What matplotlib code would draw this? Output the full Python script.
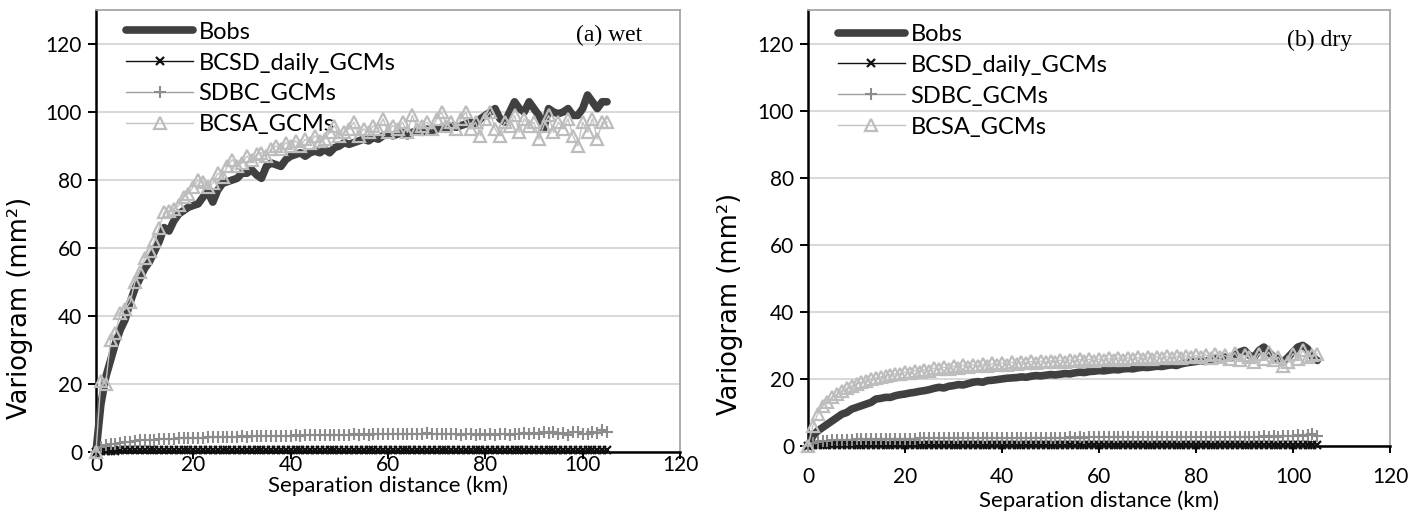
import matplotlib.pyplot as plt
import numpy as np

plt.rcParams['font.family'] = ['Lato', 'DejaVu Sans']

# ---------------- data ----------------
lag_km = list(range(0, 106))

wet_bobs = [0, 14, 22, 27, 32, 36, 39, 44, 48, 51,
            54, 56, 59, 62, 66, 65, 68, 70, 71, 72,
            72.5, 73, 75, 76.5, 73.5, 77, 79, 79.5, 80, 80.5,
            82, 82, 83, 81.5, 80.5, 84, 85, 84.5, 84, 86,
            87, 87.5, 88, 87, 88, 88.5, 88, 89, 88, 89.5,
            90, 91, 90.5, 91, 91.5, 92, 91.5, 92.5, 92, 93,
            93.5, 93, 93.5, 94, 93, 94, 94.5, 94, 95, 94.5,
            95, 95.5, 95, 96, 95.5, 96, 96.5, 97, 96.5, 98,
            99, 100, 101, 98, 97, 100, 103, 101, 100, 103,
            101, 99, 95, 101, 100, 99.5, 100, 101, 99, 99,
            101, 105, 103, 101, 103, 103]
wet_bcsd = [0, 0.3, 0.4, 0.4, 0.4, 0.5, 0.5, 0.5, 0.5, 0.5,
            0.5, 0.5, 0.5, 0.5, 0.5, 0.5, 0.5, 0.5, 0.5, 0.5,
            0.5, 0.5, 0.5, 0.5, 0.5, 0.5, 0.5, 0.5, 0.5, 0.5,
            0.5, 0.5, 0.5, 0.5, 0.5, 0.5, 0.5, 0.5, 0.5, 0.5,
            0.5, 0.5, 0.5, 0.5, 0.5, 0.5, 0.5, 0.5, 0.5, 0.5,
            0.5, 0.5, 0.5, 0.5, 0.5, 0.5, 0.5, 0.5, 0.5, 0.5,
            0.5, 0.5, 0.5, 0.5, 0.5, 0.5, 0.5, 0.5, 0.5, 0.5,
            0.5, 0.5, 0.5, 0.5, 0.5, 0.5, 0.5, 0.5, 0.5, 0.5,
            0.5, 0.5, 0.5, 0.5, 0.5, 0.5, 0.5, 0.5, 0.5, 0.5,
            0.5, 0.5, 0.5, 0.5, 0.5, 0.5, 0.5, 0.5, 0.5, 0.5,
            0.5, 0.5, 0.5, 0.5, 0.5, 0.5]
wet_sdbc = [0, 1.5, 2.0, 2.3, 2.5, 2.7, 3.0, 3.0, 3.2, 3.5,
            3.5, 3.6, 3.6, 3.8, 3.8, 3.8, 3.9, 4.0, 4.0, 4.1,
            4.2, 4.1, 4.2, 4.3, 4.3, 4.4, 4.3, 4.5, 4.4, 4.5,
            4.6, 4.5, 4.6, 4.6, 4.7, 4.6, 4.7, 4.8, 4.7, 4.8,
            4.8, 4.9, 4.8, 4.9, 5.0, 4.9, 5.0, 4.9, 5.0, 5.1,
            5.0, 5.1, 5.0, 5.2, 5.1, 5.3, 5.1, 5.2, 5.3, 5.2,
            5.4, 5.3, 5.4, 5.2, 5.4, 5.3, 5.4, 5.2, 5.5, 5.3,
            5.4, 5.3, 5.2, 5.4, 5.3, 5.1, 5.3, 5.2, 5.0, 5.2,
            5.1, 5.3, 5.0, 5.2, 5.4, 5.1, 5.3, 5.2, 5.5, 5.3,
            5.6, 5.2, 5.8, 5.5, 5.9, 5.4, 5.6, 5.0, 5.8, 5.9,
            5.2, 5.4, 6.0, 5.6, 6.4, 5.8]
wet_bcsa = [0, 21, 20, 33, 35, 41, 42, 44, 50, 53,
            57, 59, 62, 66, 70.5, 71, 71.5, 72.5, 75, 76,
            78, 80, 79.5, 78, 79, 82, 81, 84, 86, 84,
            85, 87, 86, 87.5, 88, 87, 89, 90, 89, 91,
            90, 91.5, 90, 92, 91, 93, 91.5, 92, 94, 96,
            93, 94, 95, 97, 93, 95, 94, 96, 95, 98,
            94, 96, 95, 97, 94, 99, 95, 96, 97, 95,
            98, 100, 96, 97, 95, 98, 100, 95, 97, 93,
            98, 100, 95, 93, 97, 96, 99, 94, 98, 96,
            97, 92, 96, 99, 94, 97, 95, 98, 93, 90,
            97, 94, 98, 92, 97, 97]

dry_bobs = [0, 3, 4.5, 5.5, 6.5, 7.5, 8.5, 9.5, 10, 11,
            11.5, 12, 12.5, 13, 14, 14.2, 14.5, 14.5, 15, 15.3,
            15.5, 15.8, 16, 16.3, 16.5, 16.8, 17.2, 17.5, 17.3, 17.8,
            18, 18.3, 18.2, 18.6, 19, 19.2, 19, 19.5, 19.6, 19.8,
            20, 20.2, 20.3, 20.4, 20.6, 20.5, 20.8, 21, 20.9, 21.1,
            21.3, 21.2, 21.4, 21.6, 21.5, 21.8, 22, 21.9, 22.2, 22.3,
            22.5, 22.4, 22.6, 22.8, 22.7, 23, 23.1, 23, 23.3, 23.5,
            23.4, 23.6, 23.8, 23.7, 24, 24.2, 24, 24.5, 24.8, 25,
            25.2, 25.5, 25.2, 25.8, 26, 25.8, 26.5, 26.2, 27, 28,
            28.5, 27, 26.5, 28.5, 29.5, 28, 26.5, 26, 25, 26.5,
            28, 29.5, 30, 29, 26.5, 25.5]
dry_bcsd = [0, 0.2, 0.3, 0.3, 0.3, 0.3, 0.3, 0.3, 0.3, 0.3,
            0.3, 0.3, 0.3, 0.3, 0.3, 0.3, 0.3, 0.3, 0.3, 0.3,
            0.3, 0.3, 0.3, 0.3, 0.3, 0.3, 0.3, 0.3, 0.3, 0.3,
            0.3, 0.3, 0.3, 0.3, 0.3, 0.3, 0.3, 0.3, 0.3, 0.3,
            0.3, 0.3, 0.3, 0.3, 0.3, 0.3, 0.3, 0.3, 0.3, 0.3,
            0.3, 0.3, 0.3, 0.3, 0.3, 0.3, 0.3, 0.3, 0.3, 0.3,
            0.3, 0.3, 0.3, 0.3, 0.3, 0.3, 0.3, 0.3, 0.3, 0.3,
            0.3, 0.3, 0.3, 0.3, 0.3, 0.3, 0.3, 0.3, 0.3, 0.3,
            0.3, 0.3, 0.3, 0.3, 0.3, 0.3, 0.3, 0.3, 0.3, 0.3,
            0.3, 0.3, 0.3, 0.3, 0.3, 0.3, 0.3, 0.3, 0.3, 0.3,
            0.3, 0.3, 0.3, 0.3, 0.3, 0.3]
dry_sdbc = [0, 1.0, 1.3, 1.5, 1.6, 1.7, 1.8, 1.8, 1.9, 1.9,
            2.0, 2.0, 2.0, 2.1, 2.1, 2.1, 2.1, 2.2, 2.2, 2.2,
            2.2, 2.2, 2.2, 2.3, 2.3, 2.3, 2.3, 2.3, 2.3, 2.3,
            2.3, 2.4, 2.3, 2.4, 2.4, 2.4, 2.4, 2.4, 2.4, 2.4,
            2.4, 2.4, 2.5, 2.4, 2.5, 2.4, 2.5, 2.5, 2.5, 2.5,
            2.5, 2.5, 2.5, 2.5, 2.6, 2.5, 2.6, 2.5, 2.6, 2.6,
            2.6, 2.6, 2.6, 2.6, 2.6, 2.6, 2.7, 2.6, 2.7, 2.6,
            2.7, 2.6, 2.7, 2.7, 2.7, 2.7, 2.7, 2.7, 2.7, 2.7,
            2.7, 2.7, 2.8, 2.7, 2.8, 2.7, 2.8, 2.7, 2.8, 2.8,
            2.8, 2.7, 2.8, 2.8, 2.9, 2.8, 2.9, 2.8, 3.0, 2.9,
            3.0, 3.2, 2.9, 3.4, 3.6, 3.1]
dry_bcsa = [0, 6, 9.5, 12, 13, 14.5, 15.5, 16.5, 17.2, 17.8,
            18.5, 19, 19.5, 20, 20.3, 20.6, 21, 21.3, 21.5, 21.6,
            22, 21.8, 22.5, 22.2, 22.8, 22.5, 23.2, 22.9, 23.5, 23.1,
            23.8, 23.4, 24.1, 23.6, 24.2, 23.8, 24.4, 24, 24.6, 24.2,
            24.8, 24.3, 25, 24.5, 25.1, 24.6, 25.2, 24.8, 25.3, 24.9,
            25.4, 25, 25.6, 25.1, 25.7, 25.2, 25.8, 25.3, 25.9, 25.4,
            26, 25.5, 26.1, 25.6, 26.2, 25.7, 26.3, 25.8, 26.4, 25.9,
            26.5, 26, 26.6, 26.1, 26.7, 26.2, 26.8, 26.3, 26.9, 26.4,
            27, 26.5, 27.2, 26.3, 27.5, 26.5, 27, 26, 27.8, 25.5,
            27, 26.5, 25, 27.5, 26, 28, 25.5, 26.5, 24, 25,
            27.5, 26, 28.5, 26.5, 27, 27.5]

series_names = ['Bobs', 'BCSD_daily_GCMs', 'SDBC_GCMs', 'BCSA_GCMs']
x_ticks = [0, 20, 40, 60, 80, 100, 120]
y_ticks = [0, 20, 40, 60, 80, 100, 120]

# ---------------- figure ----------------
W, H = 1419, 519
fig = plt.figure(figsize=(W / 100, H / 100), dpi=100)
axA = fig.add_axes([96 / W, 1 - 452 / H, (680 - 96) / W, (452 - 10) / H])
axB = fig.add_axes([808 / W, 1 - 446 / H, (1390 - 808) / W, (446 - 10) / H])


def draw(ax, bobs, bcsd, sdbc, bcsa, tag, tag_xy, xpad, xlab_y, ylab_xy, leg_y):
    ax.plot(lag_km, bobs, color='#404040', lw=5.5, solid_capstyle='round',
            solid_joinstyle='round', label=series_names[0], clip_on=False, zorder=3)
    ax.plot(lag_km, bcsd, color='#111111', lw=1.0, marker='x', ms=6, mew=1.6,
            label=series_names[1], clip_on=False, zorder=4)
    ax.plot(lag_km, sdbc, color='#a0a0a0', lw=1.0, marker='+', ms=9, mew=1.5,
            mec='#8c8c8c', label=series_names[2], clip_on=False, zorder=5)
    ax.plot(lag_km, bcsa, color='#c4c4c4', lw=1.0, marker='^', ms=8, mew=1.6,
            mfc='none', mec='#bdbdbd', label=series_names[3], clip_on=False, zorder=6)

    ax.set_xlim(0, 120)
    ax.set_ylim(0, 130)
    ax.set_xticks(x_ticks)
    ax.set_yticks(y_ticks)
    ax.grid(axis='y', color='#d9d9d9', lw=1.5)
    ax.set_axisbelow(True)
    for s in ['left', 'bottom']:
        ax.spines[s].set_color('black')
        ax.spines[s].set_linewidth(1.8)
    for s in ['top', 'right']:
        ax.spines[s].set_color('#a6a6a6')
        ax.spines[s].set_linewidth(1.3)
    ax.tick_params(direction='out', length=6, width=1.4, labelsize=15,
                   colors='black')
    ax.tick_params(axis='y', pad=4)
    ax.tick_params(axis='x', length=5, pad=xpad)
    ax.set_xlabel('Separation distance (km)', fontsize=16)
    ax.xaxis.set_label_coords(0.5, xlab_y)
    ax.xaxis.label.set_va('center')
    ax.set_ylabel('Variogram (mm²)', fontsize=18.5, family=['DejaVu Sans'])
    ax.yaxis.set_label_coords(ylab_xy[0], ylab_xy[1])
    ax.yaxis.label.set_va('center')
    ax.text(tag_xy[0], tag_xy[1], tag, transform=ax.transAxes,
            family='Liberation Serif', fontsize=17, ha='right', va='center')
    leg = ax.legend(loc='upper left', bbox_to_anchor=(0.036, leg_y), frameon=False,
                    fontsize=17, handlelength=2.8, handletextpad=0.25,
                    labelspacing=0.42, borderaxespad=0.0, numpoints=1)
    return leg


draw(axA, wet_bobs, wet_bcsd, wet_sdbc, wet_bcsa, '(a) wet', (0.935, 0.943),
     -3, -0.077, (-0.13, 0.325), 0.995)
draw(axB, dry_bobs, dry_bcsd, dry_sdbc, dry_bcsa, '(b) dry', (0.935, 0.93),
     10, -0.126, (-0.134, 0.325), 0.99)

fig.savefig('out.png', dpi=100)
